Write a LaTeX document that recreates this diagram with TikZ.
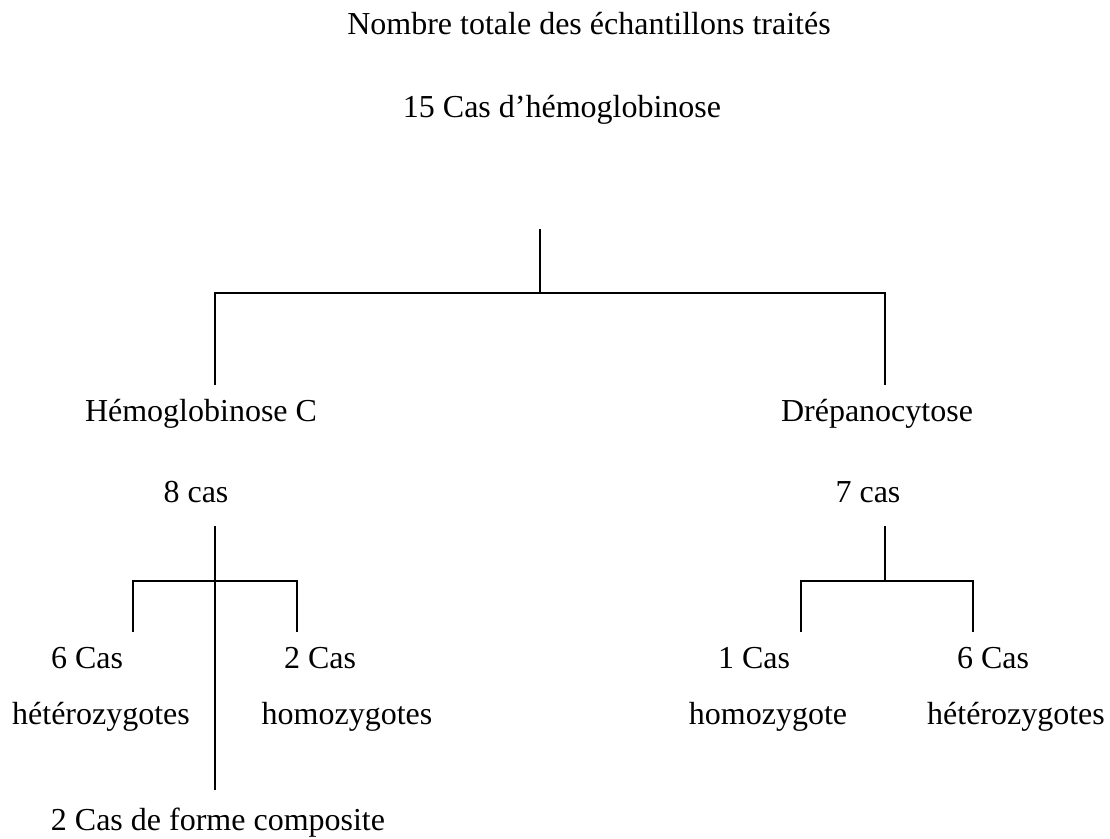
\documentclass[tikz,border=0pt]{standalone}
\usepackage{fontspec}
\setmainfont{Liberation Serif}

\begin{document}
\begin{tikzpicture}[x=0.5pt,y=-0.5pt,
  lbl/.style={inner sep=0pt, anchor=base, font=\fontsize{16}{19}\selectfont},
  tree/.style={line width=1pt}]
\useasboundingbox (0,0) rectangle (1110,839);
\node[lbl] (titre) at (589,35) {Nombre totale des échantillons traités};
\node[lbl] (total) at (562,118) {15 Cas d’hémoglobinose};
\node[lbl] (hbc) at (201,422) {Hémoglobinose C};
\node[lbl] (drep) at (877,422) {Drépanocytose};
\node[lbl] (hbcN) at (196,503) {8 cas};
\node[lbl] (drepN) at (868,503) {7 cas};
\node[lbl] (hetGN) at (87,669) {6 Cas};
\node[lbl] (hetG) at (101,725) {hétérozygotes};
\node[lbl] (homGN) at (320,669) {2 Cas};
\node[lbl] (homG) at (347,725) {homozygotes};
\node[lbl] (compo) at (218,831) {2 Cas de forme composite};
\node[lbl] (homDN) at (754,669) {1 Cas};
\node[lbl] (homD) at (768,725) {homozygote};
\node[lbl] (hetDN) at (993,669) {6 Cas};
\node[lbl] (hetD) at (1016,725) {hétérozygotes};
\coordinate (racine) at (540,229);
\coordinate (rJ) at (540,293);
\coordinate (hbcA) at (215,385);
\coordinate (drepA) at (885,385);
\coordinate (hbcB) at (215,526);
\coordinate (hbcJ) at (215,581);
\coordinate (hbcC) at (215,790);
\coordinate (hetGA) at (133,632);
\coordinate (homGA) at (297,632);
\coordinate (drepB) at (885,526);
\coordinate (drepJ) at (885,581);
\coordinate (homDA) at (801,632);
\coordinate (hetDA) at (973,632);
\draw[tree] (racine) -- (rJ);
\draw[tree] (hbcA) |- (rJ) -| (drepA);
\draw[tree] (hbcB) -- (hbcC);
\draw[tree] (hetGA) |- (hbcJ) -| (homGA);
\draw[tree] (drepB) -- (drepJ);
\draw[tree] (homDA) |- (drepJ) -| (hetDA);
\end{tikzpicture}
\end{document}
